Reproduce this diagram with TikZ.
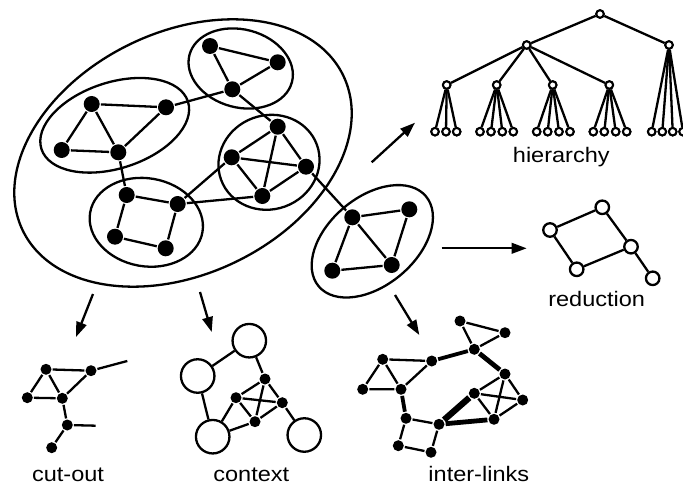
\documentclass[tikz,border=0pt]{standalone}
\usepackage{fontspec}
\newfontfamily\lblfont[FakeStretch=1.12]{Liberation Sans}
\usetikzlibrary{arrows.meta}
\begin{document}
\begin{tikzpicture}[x=1pt,y=-1pt,
  line width=2.3pt,
  dot/.style={circle,fill=black,inner sep=0pt,minimum size=16pt},
  sdot/.style={circle,fill=black,inner sep=0pt,minimum size=11pt},
  hnode/.style={circle,draw,fill=white,line width=2pt,inner sep=0pt,minimum size=7.5pt},
  rnode/.style={circle,draw,fill=white,line width=2.3pt,inner sep=0pt,minimum size=13.5pt},
  bnode/.style={circle,draw,fill=white,line width=2.3pt,inner sep=0pt,minimum size=33.5pt},
  grp/.style={draw,line width=2.3pt},
  arr/.style={line width=2.3pt,-{Triangle[length=15pt,width=10.5pt]}},
  thick1/.style={line width=3.8pt},
  thick2/.style={line width=4.8pt},
  thick3/.style={line width=6.3pt},
  lbl/.style={anchor=base,inner sep=0pt,font=\lblfont\fontsize{21}{25}\selectfont}
]
\useasboundingbox (0,0) rectangle (683,484);

% ---------- cluster ellipses ----------
\draw[grp,rotate around={25.8:(183,153)}] (183,153) ellipse [x radius=178,y radius=121];
\draw[grp,rotate around={-15:(240.7,68.5)}] (240.7,68.5) ellipse [x radius=53,y radius=39];
\draw[grp,rotate around={18:(114.7,125.3)}] (114.7,125.3) ellipse [x radius=77,y radius=43];
\draw[grp,rotate around={20:(269,162.3)}] (269,162.3) ellipse [x radius=51,y radius=47];
\draw[grp,rotate around={-10:(146.3,222.3)}] (146.3,222.3) ellipse [x radius=57,y radius=44];
\draw[grp,rotate around={40:(372.3,241.3)}] (372.3,241.3) ellipse [x radius=70,y radius=44];

% ---------- main graph ----------
\node[dot] (T1) at (210,46) {};
\node[dot] (T2) at (277.7,62.3) {};
\node[dot] (T3) at (232.3,89.3) {};
\node[dot] (L1) at (91.7,104) {};
\node[dot] (L2) at (166,107.3) {};
\node[dot] (L3) at (61.7,150) {};
\node[dot] (L4) at (118.3,152.3) {};
\node[dot] (M1) at (277.7,126.7) {};
\node[dot] (M2) at (231.7,157.3) {};
\node[dot] (M3) at (306,166.7) {};
\node[dot] (M4) at (262.3,196) {};
\node[dot] (B1) at (126.7,195) {};
\node[dot] (B2) at (177.7,204) {};
\node[dot] (B3) at (115,236.7) {};
\node[dot] (B4) at (165.7,248.3) {};
\node[dot] (R1) at (352.3,217.3) {};
\node[dot] (R2) at (409.3,209.3) {};
\node[dot] (R3) at (332.3,270.7) {};
\node[dot] (R4) at (391.7,265) {};

\draw (T1)--(T2) (T1)--(T3) (T2)--(T3);
\draw (L1)--(L2) (L1)--(L3) (L1)--(L4) (L3)--(L4) (L2)--(L4);
\draw (M1)--(M2) (M1)--(M3) (M1)--(M4) (M2)--(M3) (M2)--(M4) (M3)--(M4);
\draw (B1)--(B2) (B1)--(B3) (B3)--(B4) (B2)--(B4);
\draw (R1)--(R2) (R1)--(R3) (R1)--(R4) (R3)--(R4) (R2)--(R4);
\draw (L2)--(T3) (L4)--(B1) (T3)--(M1) (B2)--(M2) (B2)--(M4) (M3)--(R1);

% ---------- arrows ----------
\coordinate (ha0) at (371.7,162.3); \coordinate (ha1) at (415,122.7);
\coordinate (ra0) at (441.7,248.3); \coordinate (ra1) at (526.7,248.3);
\coordinate (ca0) at (93,294);      \coordinate (ca1) at (76,337);
\coordinate (xa0) at (200,292);     \coordinate (xa1) at (211.7,332);
\coordinate (ia0) at (395,295);     \coordinate (ia1) at (419.3,335);
\draw[arr] (ha0)--(ha1);
\draw[arr] (ra0)--(ra1);
\draw[arr] (ca0)--(ca1);
\draw[arr] (xa0)--(xa1);
\draw[arr] (ia0)--(ia1);

% ---------- hierarchy ----------
\node[hnode] (h0) at (600,14) {};
\node[hnode] (hA) at (526.7,45) {};
\node[hnode] (hB) at (669,45) {};
\node[hnode] (g1) at (446.7,85) {};
\node[hnode] (g2) at (496.7,85) {};
\node[hnode] (g3) at (552.7,85) {};
\node[hnode] (g4) at (609.3,85) {};
\draw (h0)--(hA) (h0)--(hB) (hA)--(g1) (hA)--(g2) (hA)--(g3) (hA)--(g4);
\foreach \n/\x in {a1/435,a2/446,a3/456.7}{\node[hnode] (\n) at (\x,131.7) {}; \draw (g1)--(\n);}
\foreach \n/\x in {b1/480,b2/491,b3/502.3,b4/513.3}{\node[hnode] (\n) at (\x,131.7) {}; \draw (g2)--(\n);}
\foreach \n/\x in {c1/536.7,c2/547.7,c3/559,c4/570}{\node[hnode] (\n) at (\x,131.7) {}; \draw (g3)--(\n);}
\foreach \n/\x in {d1/593.3,d2/604.3,d3/615.7,d4/626.7}{\node[hnode] (\n) at (\x,131.7) {}; \draw (g4)--(\n);}
\foreach \n/\x in {e1/651.7,e2/662.3,e3/672.7,e4/683}{\node[hnode] (\n) at (\x,131.7) {}; \draw (hB)--(\n);}
\foreach \n in {a1,a2,a3,b1,b2,b3,b4,c1,c2,c3,c4,d1,d2,d3,d4,e1,e2,e3,e4,g1,g2,g3,g4,hA,hB,h0}{\node[hnode] at (\n) {};}
\node[lbl] (hl) at (561.3,162.3) {hierarchy};

% ---------- reduction ----------
\node[rnode] (N1) at (550,230) {};
\node[rnode] (N2) at (602.3,207.3) {};
\node[rnode] (N3) at (631,246.7) {};
\node[rnode] (N4) at (576.7,269.3) {};
\node[rnode] (N5) at (652.7,278.3) {};
\draw (N1)--(N2) (N2)--(N3) (N3)--(N4) (N4)--(N1) (N3)--(N5);
\node[lbl] (rl) at (596.7,306.5) {reduction};

% ---------- cut-out ----------
\node[sdot] (C1) at (46,369.3) {};
\node[sdot] (C2) at (91,370.7) {};
\node[sdot] (C3) at (27.3,397.7) {};
\node[sdot] (C4) at (62.3,398.3) {};
\node[sdot] (C5) at (67.3,425) {};
\node[sdot] (C6) at (51.7,447.7) {};
\coordinate (Cs1) at (127.3,361);
\coordinate (Cs2) at (95.7,425.7);
\draw (C1)--(C2) (C1)--(C3) (C1)--(C4) (C3)--(C4) (C2)--(C4) (C4)--(C5) (C5)--(C6);
\draw (C2)--(Cs1) (C5)--(Cs2);
\node[lbl] (cl) at (68,481) {cut-out};

% ---------- context ----------
\node[bnode] (O1) at (249.3,340.7) {};
\node[bnode] (O2) at (197.7,376) {};
\node[bnode] (O3) at (212.7,436.7) {};
\node[bnode] (O4) at (304.3,435) {};
\node[sdot] (D1) at (265,379) {};
\node[sdot] (D2) at (236,397.7) {};
\node[sdot] (D3) at (282.3,402.7) {};
\node[sdot] (D4) at (255,421.7) {};
\draw (O1)--(O2) (O2)--(O3) (O1)--(D1) (D2)--(O3) (D4)--(O3) (D3)--(O4);
\draw (D1)--(D2) (D1)--(D3) (D1)--(D4) (D2)--(D3) (D2)--(D4) (D3)--(D4);
\node[lbl] (xl) at (251.3,481) {context};

% ---------- inter-links ----------
\node[sdot] (I1) at (460,321) {};
\node[sdot] (I2) at (505,332.7) {};
\node[sdot] (I3) at (474.3,349.3) {};
\node[sdot] (I4) at (382.7,359.3) {};
\node[sdot] (I5) at (431.7,361) {};
\node[sdot] (I6) at (505,374) {};
\node[sdot] (I7) at (362.7,389.3) {};
\node[sdot] (I8) at (401,389.3) {};
\node[sdot] (I9) at (474.3,393.3) {};
\node[sdot] (I10) at (522.7,400) {};
\node[sdot] (I11) at (406,418.3) {};
\node[sdot] (I12) at (439,424.3) {};
\node[sdot] (I13) at (494,419.3) {};
\node[sdot] (I14) at (398.3,445.7) {};
\node[sdot] (I15) at (431,452.3) {};
\draw (I1)--(I2) (I1)--(I3) (I2)--(I3);
\draw (I4)--(I5) (I4)--(I7) (I4)--(I8) (I7)--(I8) (I5)--(I8);
\draw (I6)--(I9) (I6)--(I10) (I6)--(I13) (I9)--(I10) (I9)--(I13) (I10)--(I13);
\draw (I11)--(I12) (I11)--(I14) (I14)--(I15) (I12)--(I15);
\draw[thick1] (I5)--(I3);
\draw[thick2] (I3)--(I6);
\draw[thick1] (I8)--(I11);
\draw[thick3] (I12)--(I9);
\draw[thick2] (I12)--(I13);
\node[lbl] (il) at (478.8,481) {inter-links};
\end{tikzpicture}
\end{document}
